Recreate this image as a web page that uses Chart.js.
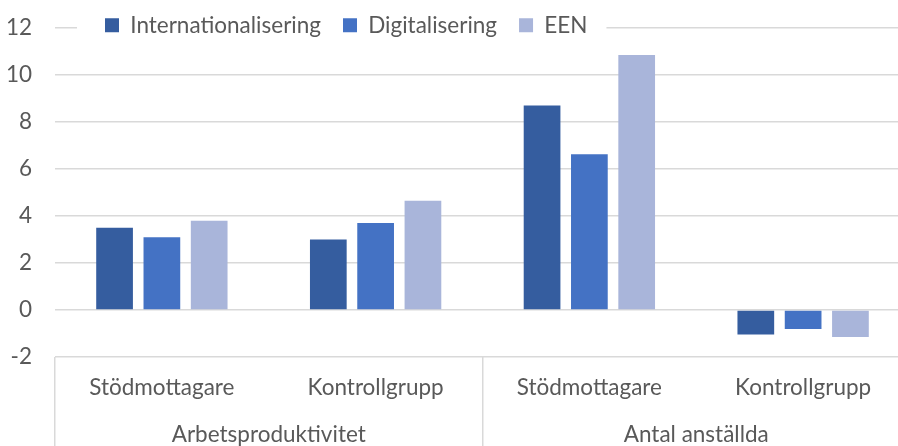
<!DOCTYPE html>
<html><head><meta charset="utf-8">
<script src="https://cdn.jsdelivr.net/npm/chart.js@4/dist/chart.umd.min.js"></script>
<style>html,body{margin:0;padding:0;background:#fff;overflow:hidden}#wrap{position:relative;width:910px;height:446px}</style>
</head><body><div id="wrap"><canvas id="c"></canvas></div>
<script>
const groups = ['Arbetsproduktivitet', 'Antal anställda'];
const categories = ['Stödmottagare', 'Kontrollgrupp', 'Stödmottagare', 'Kontrollgrupp'];
const seriesNames = ['Internationalisering', 'Digitalisering', 'EEN'];
const internationalisering = [3.5, 3.0, 8.7, -1.04];
const digitalisering = [3.1, 3.7, 6.63, -0.81];
const een = [3.8, 4.65, 10.85, -1.15];
const yTicks = [-2, 0, 2, 4, 6, 8, 10, 12];

const COLORS = ['#355D9F', '#4472C4', '#A9B5DA'];
const TEXT = '#595959', GRID = '#d9d9d9';
const FONT = 'Lato', FS = 22.5, LH = 1.2;
const LEG_X = 105, LEG_DY = -8, LEG_PAD = 22;

const legendShift = {
  id: 'legendShift',
  afterLayout(chart) {
    const lg = chart.legend; if (!lg) return;
    const pad = lg.options.labels.padding;
    const w = lg.right - lg.left;
    lg.left = LEG_X - pad; lg.right = lg.left + w;
    lg.top += LEG_DY; lg.bottom = lg.top + 70;
    if (!lg.__bg) {
      const orig = lg.draw;
      lg.draw = function(area) {
        const hb = this.legendHitBoxes || [];
        if (hb.length) {
          const l = Math.min(...hb.map(h => h.left)), r = Math.max(...hb.map(h => h.left + h.width));
          const t = Math.min(...hb.map(h => h.top)), b = Math.max(...hb.map(h => h.top + h.height));
          const ctx = this.ctx; ctx.save(); ctx.fillStyle = '#fff';
          ctx.fillRect(l - 28, t - 2, r - l + 47, b - t + 4); ctx.restore();
        }
        return orig.call(this, area);
      };
      lg.__bg = true;
    }
  }
};

const font = { family: FONT, size: FS, lineHeight: LH };
const series = [internationalisering, digitalisering, een];

new Chart(document.getElementById('c'), {
  type: 'bar',
  data: {
    labels: categories,
    datasets: series.map((d, i) => ({
      label: seriesNames[i], data: d, backgroundColor: COLORS[i],
      borderWidth: 0, categoryPercentage: 0.664, barPercentage: 0.776, xAxisID: 'x'
    }))
  },
  options: {
    responsive: true, maintainAspectRatio: false, animation: false,
    layout: { padding: 0 },
    plugins: {
      legend: {
        position: 'top', align: 'start', maxHeight: 28,
        labels: { font, color: TEXT, boxWidth: 14, boxHeight: 14, padding: LEG_PAD }
      },
      tooltip: { enabled: false }
    },
    scales: {
      x: {
        type: 'category', position: 'bottom', offset: true,
        grid: { offset: true, drawOnChartArea: false, drawTicks: true, tickLength: 44,
                lineWidth: 1.5, color: ctx => (ctx.index === 1 || ctx.index === 3) ? 'rgba(0,0,0,0)' : GRID },
        border: { display: false },
        ticks: { font, color: TEXT, padding: -26.5, maxRotation: 0, autoSkip: false },
        afterFit: s => { s.height = 44; }
      },
      x2: {
        type: 'category', position: 'bottom', offset: true, labels: groups,
        grid: { offset: true, drawOnChartArea: false, drawTicks: true, tickLength: 47, lineWidth: 1.5, color: GRID },
        border: { display: false },
        ticks: { font, color: TEXT, padding: -27, maxRotation: 0, autoSkip: false },
        afterFit: s => { s.height = 45; }
      },
      y: {
        min: yTicks[0], max: yTicks[yTicks.length - 1],
        grid: { color: GRID, lineWidth: 1.5, drawTicks: true, tickLength: 23, tickColor: 'rgba(0,0,0,0)' },
        border: { display: false },
        ticks: { stepSize: yTicks[1] - yTicks[0], font, color: TEXT, padding: 0 },
        afterFit: s => { s.width = 55; }
      }
    }
  },
  plugins: [legendShift]
});
</script></body></html>
